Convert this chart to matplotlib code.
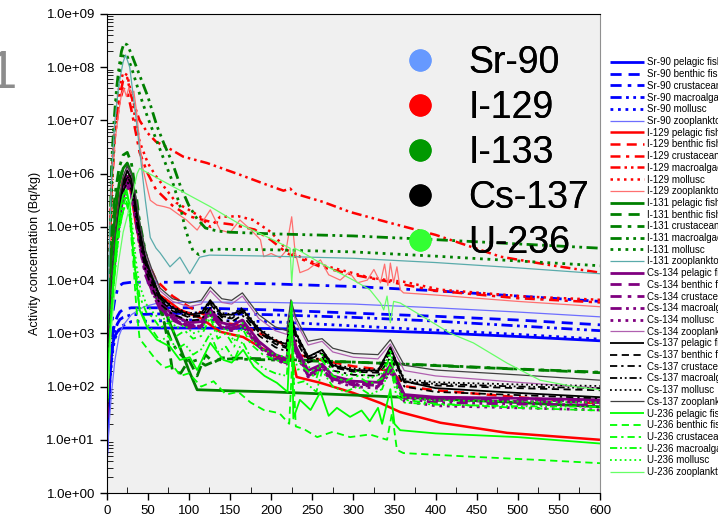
import numpy as np
import matplotlib
matplotlib.use("Agg")
import matplotlib.pyplot as plt
from matplotlib.lines import Line2D
from matplotlib.ticker import FuncFormatter, MultipleLocator, LogLocator, NullFormatter

plt.rcParams['font.family'] = ['Liberation Sans', 'DejaVu Sans']

# ---------------- data (log10 of activity concentration, Bq/kg) ----------------
nuclides = ["Sr-90", "I-129", "I-131", "Cs-134", "Cs-137", "U-236"]
organisms = ["pelagic fish", "benthic fish", "crustacean", "macroalgae", "mollusc", "zooplankton"]
big_legend_labels = ["Sr-90", "I-129", "I-133", "Cs-137", "U-236"]

# Sr-90
sr_days = [0, 2, 4, 6, 8, 10, 13, 16, 20, 30, 100, 200, 300, 400, 500, 600]
sr90_pelagic = [0.7, 1.4, 2.2, 2.6, 2.85, 2.95, 3.03, 3.08, 3.1, 3.1, 3.1, 3.09, 3.06, 3.01, 2.94, 2.86]
sr90_benthic = [0.9, 1.6, 2.3, 2.8, 3.05, 3.2, 3.32, 3.4, 3.45, 3.48, 3.48, 3.44, 3.38, 3.32, 3.25, 3.16]
sr90_crust = [0.9, 1.8, 2.6, 3.1, 3.45, 3.65, 3.82, 3.9, 3.94, 3.96, 3.96, 3.93, 3.88, 3.8, 3.7, 3.6]
sr90_macro = [0.9, 1.6, 2.2, 2.6, 2.9, 3.05, 3.18, 3.26, 3.3, 3.35, 3.38, 3.35, 3.3, 3.23, 3.14, 3.05]
sr90_mollusc = [0.8, 1.5, 2.1, 2.5, 2.75, 2.9, 3.02, 3.1, 3.15, 3.22, 3.25, 3.22, 3.14, 3.06, 2.98, 2.89]
sr90_zoo_days = [0, 3, 6, 10, 15, 20, 30, 45, 60, 100, 200, 300, 400, 500, 600]
sr90_zoo = [0.5, 1.3, 1.9, 2.5, 2.95, 3.15, 3.35, 3.5, 3.56, 3.59, 3.58, 3.55, 3.48, 3.4, 3.31]

# I-129
i129_pel_days = [0, 3, 6, 10, 15, 20, 25, 30, 35, 40, 50, 57, 73, 89, 113, 138, 166, 199, 219, 225, 231, 260, 300, 333, 357, 406, 487, 600]
i129_pelagic = [1.5, 3.0, 4.2, 5.0, 5.5, 5.85, 5.95, 5.6, 5.1, 4.7, 4.2, 3.8, 3.63, 3.44, 3.3, 3.03, 2.93, 2.63, 2.44, 2.6, 2.18, 2.07, 1.88, 1.69, 1.52, 1.32, 1.13, 1.0]
i129_ben_days = [0, 3, 6, 10, 15, 20, 25, 30, 35, 40, 50, 60, 80, 100, 125, 140, 165, 200, 222, 226, 232, 260, 300, 345, 365, 400, 500, 600]
i129_benthic = [1.5, 3.0, 4.3, 5.1, 5.6, 5.9, 6.0, 5.8, 5.3, 4.9, 4.35, 4.0, 3.7, 3.5, 3.3, 3.2, 3.15, 2.9, 2.75, 3.1, 2.6, 2.5, 2.38, 2.3, 2.0, 1.93, 1.8, 1.68]
i129_cru_days = [0, 3, 6, 10, 15, 20, 25, 30, 40, 50, 60, 80, 100, 125, 150, 180, 200, 220, 260, 300, 350, 400, 500, 600]
i129_crust = [2.0, 4.0, 5.7, 6.7, 7.3, 7.6, 7.55, 7.2, 6.4, 6.0, 5.7, 5.4, 5.2, 5.1, 5.05, 4.95, 4.75, 4.5, 4.25, 4.1, 3.95, 3.8, 3.66, 3.58]
i129_mac_days = [0, 3, 6, 10, 15, 20, 25, 30, 40, 50, 60, 73, 93, 122, 162, 195, 215, 223, 230, 263, 296, 341, 400, 479, 540, 600]
i129_macro = [2.0, 4.0, 5.8, 6.8, 7.4, 7.75, 7.8, 7.45, 7.0, 6.76, 6.6, 6.5, 6.32, 6.2, 5.98, 5.79, 5.68, 5.72, 5.62, 5.47, 5.28, 5.09, 4.85, 4.44, 4.28, 4.14]
i129_mol_days = [0, 3, 6, 10, 15, 20, 25, 30, 35, 40, 50, 60, 70, 85, 100, 113, 126, 138, 160, 178, 200, 219, 240, 260, 300, 317, 341, 361, 406, 511, 600]
i129_mollusc = [2.0, 4.2, 6.0, 7.0, 7.6, 7.9, 7.85, 7.5, 7.0, 6.6, 6.2, 5.95, 5.75, 5.45, 5.32, 5.2, 5.0, 5.19, 5.2, 5.13, 4.9, 4.57, 4.4, 4.29, 4.13, 4.06, 4.0, 3.97, 3.82, 3.69, 3.63]
i129_zoo_days = [0, 3, 6, 10, 15, 18, 21, 24, 27, 30, 33, 36, 40, 44, 49, 53, 61, 70, 77, 85, 97, 110, 118, 126, 138, 150, 162, 175, 187, 191, 200, 211, 218, 225, 229, 235, 245, 260, 270, 284, 295, 305, 317, 325, 333, 338, 342, 345, 349, 353, 357, 361, 400, 500, 600]
i129_zoo = [2.0, 4.0, 5.7, 6.6, 7.2, 7.5, 7.6, 7.45, 7.62, 7.5, 7.55, 7.2, 6.6, 6.1, 5.76, 5.5, 5.41, 5.38, 5.35, 5.26, 5.13, 4.94, 5.13, 5.32, 4.94, 4.89, 5.13, 4.95, 4.76, 4.44, 4.5, 4.42, 4.55, 5.19, 4.55, 4.14, 4.2, 4.38, 4.1, 4.0, 4.15, 3.95, 4.0, 4.2, 3.95, 4.3, 3.9, 4.32, 3.95, 4.25, 3.82, 3.76, 3.72, 3.6, 3.5]

# I-131
i131_pel_days = [0, 3, 6, 10, 15, 20, 25, 30, 35, 40, 50, 60, 69, 80, 90, 100, 110, 150, 200, 300, 400, 500, 600]
i131_pelagic = [1.5, 3.0, 4.3, 5.2, 5.8, 6.1, 6.2, 6.0, 5.5, 5.0, 4.3, 3.85, 3.5, 3.07, 2.7, 2.3, 1.94, 1.92, 1.9, 1.84, 1.77, 1.7, 1.62]
i131_ben_days = [0, 3, 6, 10, 15, 20, 25, 30, 35, 40, 50, 60, 67, 75, 80, 90, 100, 110, 120, 130, 140, 200, 330, 450, 600]
i131_benthic = [1.8, 3.4, 4.6, 5.4, 5.9, 6.1, 6.15, 5.9, 5.3, 4.8, 4.1, 3.7, 3.44, 2.8, 2.3, 2.25, 2.5, 2.2, 2.6, 2.45, 2.54, 2.52, 2.44, 2.36, 2.26]
i131_cru_days = [0, 3, 6, 10, 15, 20, 25, 30, 35, 40, 50, 60, 70, 80, 90, 100, 110, 120, 135, 150, 200, 300, 400, 500, 600]
i131_crust = [1.8, 3.5, 4.8, 5.6, 6.1, 6.35, 6.4, 6.2, 5.7, 5.1, 4.3, 3.7, 3.2, 2.8, 2.6, 2.45, 2.5, 2.4, 2.5, 2.52, 2.5, 2.46, 2.4, 2.33, 2.27]
i131_mac_days = [0, 3, 6, 9, 12, 15, 18, 21, 25, 30, 40, 50, 61, 70, 80, 90, 100, 110, 120, 135, 150, 200, 300, 400, 500, 600]
i131_macro = [2.0, 4.0, 6.2, 7.0, 7.6, 8.0, 8.3, 8.45, 8.42, 8.25, 7.85, 7.45, 6.9, 6.55, 6.2, 5.75, 5.4, 5.15, 4.98, 4.92, 4.9, 4.87, 4.83, 4.76, 4.68, 4.6]
i131_mol_days = [0, 3, 6, 9, 12, 15, 18, 21, 25, 30, 40, 50, 60, 70, 80, 90, 95, 100, 105, 112, 120, 135, 200, 300, 400, 500, 600]
i131_mollusc = [2.0, 3.8, 5.8, 6.8, 7.4, 7.85, 8.1, 8.25, 8.2, 8.0, 7.5, 7.05, 6.65, 6.25, 5.85, 5.35, 5.0, 4.75, 4.55, 4.48, 4.55, 4.58, 4.57, 4.53, 4.45, 4.36, 4.27]
i131_zoo_days = [0, 3, 6, 10, 15, 20, 23, 28, 32, 36, 40, 47, 53, 60, 65, 77, 89, 101, 113, 125, 200, 300, 400, 500, 600]
i131_zoo = [2.5, 4.5, 6.0, 7.0, 7.7, 8.1, 8.23, 8.0, 7.5, 7.0, 6.45, 5.5, 4.8, 4.6, 4.51, 4.25, 4.43, 4.12, 4.43, 4.47, 4.45, 4.41, 4.33, 4.23, 4.12]

# Cs-134 / Cs-137 (shared sampling days)
cs_days = [0, 4, 8, 12, 16, 20, 25, 30, 35, 40, 47, 55, 65, 80, 100, 115, 126, 140, 152, 165, 185, 205, 219, 224, 230, 245, 262, 275, 300, 330, 345, 362, 400, 500, 600]
cs134_pelagic = [1.4, 3.1, 4.2, 4.9, 5.4, 5.75, 5.95, 5.8, 5.35, 4.85, 4.3, 3.92, 3.58, 3.35, 3.2, 3.22, 3.45, 3.2, 3.15, 3.25, 2.85, 2.6, 2.52, 3.1, 2.75, 2.3, 2.42, 2.2, 2.1, 2.08, 2.4, 1.85, 1.8, 1.78, 1.75]
cs134_benthic = [1.4, 3.0, 4.1, 4.8, 5.3, 5.65, 5.85, 5.7, 5.25, 4.75, 4.2, 3.85, 3.52, 3.3, 3.15, 3.18, 3.4, 3.15, 3.1, 3.2, 2.8, 2.56, 2.48, 3.05, 2.7, 2.25, 2.38, 2.16, 2.06, 2.04, 2.35, 1.82, 1.77, 1.75, 1.72]
cs134_crust = [1.4, 3.0, 4.0, 4.7, 5.2, 5.55, 5.75, 5.6, 5.15, 4.65, 4.1, 3.78, 3.45, 3.25, 3.1, 3.12, 3.35, 3.1, 3.05, 3.15, 2.75, 2.52, 2.44, 3.0, 2.65, 2.2, 2.34, 2.12, 2.03, 2.0, 2.3, 1.8, 1.74, 1.72, 1.7]
cs134_macro = [1.4, 3.0, 4.0, 4.7, 5.2, 5.55, 5.75, 5.62, 5.18, 4.68, 4.12, 3.8, 3.47, 3.27, 3.12, 3.14, 3.37, 3.12, 3.07, 3.17, 2.77, 2.54, 2.46, 3.02, 2.67, 2.22, 2.36, 2.14, 2.05, 2.02, 2.32, 1.78, 1.7, 1.67, 1.65]
cs134_mollusc = [1.4, 3.1, 4.1, 4.8, 5.3, 5.65, 5.85, 5.72, 5.28, 4.78, 4.2, 3.85, 3.5, 3.28, 3.12, 3.14, 3.38, 3.12, 3.06, 3.15, 2.74, 2.5, 2.42, 2.98, 2.62, 2.18, 2.3, 2.1, 2.0, 1.97, 2.26, 1.72, 1.64, 1.6, 1.56]
cs134_zoo = [1.5, 3.3, 4.4, 5.1, 5.6, 5.95, 6.1, 5.95, 5.55, 5.05, 4.5, 4.15, 3.8, 3.6, 3.5, 3.55, 3.8, 3.58, 3.55, 3.7, 3.28, 3.05, 2.98, 3.55, 3.22, 2.78, 2.85, 2.65, 2.55, 2.52, 2.8, 2.3, 2.2, 2.08, 1.97]
cs137_pelagic = [1.4, 3.2, 4.3, 5.0, 5.5, 5.85, 6.05, 5.9, 5.45, 4.95, 4.4, 4.05, 3.7, 3.48, 3.35, 3.38, 3.62, 3.35, 3.35, 3.45, 3.08, 2.85, 2.8, 3.35, 3.0, 2.56, 2.69, 2.4, 2.31, 2.3, 2.74, 2.1, 1.97, 1.88, 1.8]
cs137_benthic = [1.4, 3.1, 4.2, 4.9, 5.4, 5.75, 5.95, 5.8, 5.35, 4.85, 4.3, 3.95, 3.62, 3.42, 3.3, 3.32, 3.55, 3.3, 3.28, 3.4, 3.02, 2.8, 2.72, 3.28, 2.95, 2.5, 2.62, 2.36, 2.28, 2.26, 2.65, 2.08, 2.02, 1.97, 1.93]
cs137_crust = [1.4, 3.0, 4.1, 4.8, 5.3, 5.65, 5.85, 5.7, 5.25, 4.75, 4.2, 3.85, 3.55, 3.36, 3.24, 3.26, 3.48, 3.24, 3.22, 3.34, 2.96, 2.74, 2.66, 3.2, 2.88, 2.45, 2.56, 2.3, 2.22, 2.2, 2.55, 2.0, 1.9, 1.84, 1.78]
cs137_macro = [1.4, 3.1, 4.2, 4.9, 5.4, 5.75, 5.95, 5.82, 5.38, 4.9, 4.35, 4.0, 3.66, 3.45, 3.32, 3.34, 3.58, 3.32, 3.3, 3.42, 3.05, 2.82, 2.75, 3.3, 2.98, 2.52, 2.64, 2.38, 2.3, 2.28, 2.68, 2.1, 2.05, 2.0, 1.97]
cs137_mollusc = [1.4, 3.2, 4.3, 5.0, 5.5, 5.85, 6.05, 5.9, 5.45, 4.95, 4.42, 4.05, 3.7, 3.5, 3.38, 3.4, 3.62, 3.38, 3.36, 3.48, 3.1, 2.88, 2.8, 3.35, 3.02, 2.56, 2.68, 2.42, 2.34, 2.32, 2.72, 2.14, 2.08, 2.04, 2.01]
cs137_zoo = [1.5, 3.3, 4.4, 5.1, 5.6, 5.95, 6.15, 6.0, 5.6, 5.1, 4.55, 4.2, 3.85, 3.65, 3.57, 3.62, 3.87, 3.65, 3.62, 3.76, 3.35, 3.12, 3.05, 3.63, 3.3, 2.85, 2.9, 2.72, 2.62, 2.6, 2.88, 2.4, 2.31, 2.22, 2.12]

# U-236
u236_pel_days = [0, 4, 8, 12, 16, 20, 24, 28, 32, 40, 49, 61, 77, 89, 101, 110, 126, 142, 152, 166, 179, 192, 207, 220, 225, 227, 235, 248, 260, 270, 280, 296, 310, 320, 330, 335, 341, 345, 350, 357, 400, 500, 600]
u236_pelagic = [1.5, 3.0, 4.0, 4.8, 5.3, 5.6, 5.7, 5.4, 4.57, 3.44, 3.12, 2.88, 2.75, 2.5, 2.55, 2.31, 2.82, 2.5, 2.45, 2.69, 2.37, 2.2, 2.07, 1.9, 3.6, 1.4, 1.75, 1.56, 1.9, 1.45, 1.6, 1.43, 1.55, 1.35, 1.6, 1.3, 1.69, 1.95, 1.3, 1.18, 1.12, 1.05, 0.93]
u236_ben_days = [0, 4, 8, 12, 16, 20, 24, 28, 32, 36, 40, 50, 60, 70, 80, 90, 100, 115, 130, 145, 160, 175, 191, 210, 222, 226, 230, 240, 256, 275, 296, 320, 341, 347, 353, 361, 446, 527, 600]
u236_benthic = [1.5, 2.8, 3.8, 4.5, 5.0, 5.3, 5.45, 5.2, 4.4, 3.5, 2.9, 2.7, 2.5, 2.35, 2.4, 2.2, 2.25, 2.0, 2.1, 1.85, 1.9, 1.7, 1.56, 1.5, 1.3, 2.6, 1.25, 1.2, 1.05, 1.15, 1.05, 1.1, 1.0, 1.5, 0.81, 0.75, 0.68, 0.62, 0.56]
u236_days = [0, 4, 8, 12, 16, 20, 24, 28, 32, 36, 40, 48, 56, 65, 75, 85, 95, 105, 115, 126, 135, 145, 155, 165, 175, 190, 205, 219, 224, 228, 240, 255, 262, 275, 290, 305, 320, 335, 345, 352, 362, 400, 500, 600]
u236_crust = [1.5, 2.9, 3.9, 4.6, 5.1, 5.4, 5.6, 5.3, 4.7, 4.1, 3.7, 3.4, 3.3, 3.1, 3.2, 2.95, 3.05, 2.9, 2.95, 3.3, 2.9, 3.0, 2.75, 3.1, 2.8, 2.6, 2.5, 2.45, 3.4, 2.3, 2.35, 2.15, 2.5, 2.2, 2.1, 2.2, 2.05, 2.15, 2.6, 2.0, 1.75, 1.68, 1.6, 1.55]
u236_macro = [1.5, 2.8, 3.8, 4.5, 5.0, 5.3, 5.5, 5.2, 4.5, 3.9, 3.5, 3.2, 3.05, 2.85, 2.95, 2.7, 2.8, 2.6, 2.7, 3.0, 2.65, 2.75, 2.5, 2.85, 2.55, 2.35, 2.25, 2.2, 3.2, 2.05, 2.1, 1.9, 2.3, 2.0, 1.9, 2.0, 1.85, 1.95, 2.4, 1.85, 1.7, 1.66, 1.63, 1.62]
u236_mollusc = [1.5, 3.0, 4.0, 4.7, 5.2, 5.5, 5.65, 5.4, 4.9, 4.3, 3.9, 3.55, 3.4, 3.25, 3.3, 3.1, 3.15, 3.0, 3.05, 3.4, 3.0, 3.1, 2.85, 3.2, 2.9, 2.7, 2.6, 2.55, 3.5, 2.4, 2.45, 2.25, 2.6, 2.3, 2.2, 2.3, 2.15, 2.25, 2.7, 2.05, 1.8, 1.74, 1.72, 1.7]
u236_zoo_days = [0, 5, 10, 15, 20, 25, 30, 37, 40, 60, 90, 126, 162, 190, 223, 225, 228, 235, 260, 300, 320, 333, 337, 341, 345, 349, 357, 385, 418, 446, 487, 527, 568, 600]
u236_zoo = [1.5, 3.0, 3.8, 4.4, 4.9, 5.2, 5.5, 6.0, 6.1, 5.93, 5.68, 5.38, 5.05, 4.85, 4.6, 3.95, 4.6, 4.55, 4.32, 4.0, 3.82, 3.57, 3.44, 3.7, 3.2, 3.6, 3.57, 3.31, 3.0, 2.82, 2.44, 2.12, 2.0, 1.94]

# ---------------- styles ----------------
nuc_color = {"Sr-90": "#0000ff", "I-129": "#ff0000", "I-131": "#008000",
             "Cs-134": "#800080", "Cs-137": "#000000", "U-236": "#00ff00"}
zoo_color = {"Sr-90": "#6e6eff", "I-129": "#ff7070", "I-131": "#5aabab",
             "Cs-134": "#b060b0", "Cs-137": "#404040", "U-236": "#66ff66"}
nuc_lw = {"Sr-90": 2.0, "I-129": 1.8, "I-131": 2.0, "Cs-134": 2.0, "Cs-137": 1.3, "U-236": 1.3}
org_style = {"pelagic fish": "-",
             "benthic fish": (0, (4, 2.5)),
             "crustacean": (0, (4, 2.2, 1.3, 2.2)),
             "macroalgae": (0, (4, 1.6, 1.0, 1.6, 1.0, 1.6)),
             "mollusc": (0, (1, 1.7)),
             "zooplankton": "-"}

series = [
    ("Sr-90", "pelagic fish", sr_days, sr90_pelagic),
    ("Sr-90", "benthic fish", sr_days, sr90_benthic),
    ("Sr-90", "crustacean", sr_days, sr90_crust),
    ("Sr-90", "macroalgae", sr_days, sr90_macro),
    ("Sr-90", "mollusc", sr_days, sr90_mollusc),
    ("Sr-90", "zooplankton", sr90_zoo_days, sr90_zoo),
    ("I-129", "pelagic fish", i129_pel_days, i129_pelagic),
    ("I-129", "benthic fish", i129_ben_days, i129_benthic),
    ("I-129", "crustacean", i129_cru_days, i129_crust),
    ("I-129", "macroalgae", i129_mac_days, i129_macro),
    ("I-129", "mollusc", i129_mol_days, i129_mollusc),
    ("I-129", "zooplankton", i129_zoo_days, i129_zoo),
    ("I-131", "pelagic fish", i131_pel_days, i131_pelagic),
    ("I-131", "benthic fish", i131_ben_days, i131_benthic),
    ("I-131", "crustacean", i131_cru_days, i131_crust),
    ("I-131", "macroalgae", i131_mac_days, i131_macro),
    ("I-131", "mollusc", i131_mol_days, i131_mollusc),
    ("I-131", "zooplankton", i131_zoo_days, i131_zoo),
    ("Cs-134", "pelagic fish", cs_days, cs134_pelagic),
    ("Cs-134", "benthic fish", cs_days, cs134_benthic),
    ("Cs-134", "crustacean", cs_days, cs134_crust),
    ("Cs-134", "macroalgae", cs_days, cs134_macro),
    ("Cs-134", "mollusc", cs_days, cs134_mollusc),
    ("Cs-134", "zooplankton", cs_days, cs134_zoo),
    ("Cs-137", "pelagic fish", cs_days, cs137_pelagic),
    ("Cs-137", "benthic fish", cs_days, cs137_benthic),
    ("Cs-137", "crustacean", cs_days, cs137_crust),
    ("Cs-137", "macroalgae", cs_days, cs137_macro),
    ("Cs-137", "mollusc", cs_days, cs137_mollusc),
    ("Cs-137", "zooplankton", cs_days, cs137_zoo),
    ("U-236", "pelagic fish", u236_pel_days, u236_pelagic),
    ("U-236", "benthic fish", u236_ben_days, u236_benthic),
    ("U-236", "crustacean", u236_days, u236_crust),
    ("U-236", "macroalgae", u236_days, u236_macro),
    ("U-236", "mollusc", u236_days, u236_mollusc),
    ("U-236", "zooplankton", u236_zoo_days, u236_zoo),
]

W, H = 718, 518
fig = plt.figure(figsize=(W / 100, H / 100), dpi=100)
fig.patch.set_facecolor("white")
ax = fig.add_axes([106.7 / W, (H - 493) / H, (600 - 106.7) / W, (493 - 14) / H])
ax.set_facecolor("#f0f0f0")

handles = []
for nuc, org, d, lg in series:
    if org == "zooplankton":
        color, lw = zoo_color[nuc], 0.9
    else:
        color, lw = nuc_color[nuc], nuc_lw[nuc]
    line, = ax.plot(d, 10 ** np.asarray(lg), color=color, lw=lw,
                    linestyle=org_style[org], label=f"{nuc} {org}",
                    solid_capstyle="butt", dash_capstyle="butt")
    handles.append(line)

ax.set_yscale("log")
ax.set_ylim(1, 1e9)
ax.set_xlim(0, 600)
ax.xaxis.set_major_locator(MultipleLocator(50))
ax.xaxis.set_minor_locator(MultipleLocator(25))
ax.yaxis.set_major_locator(LogLocator(base=10, numticks=20))
ax.yaxis.set_minor_locator(LogLocator(base=10, subs=np.arange(2, 10), numticks=20))
ax.yaxis.set_minor_formatter(NullFormatter())
ax.yaxis.set_major_formatter(FuncFormatter(lambda v, p: f"{v:.1e}"))
ax.tick_params(which="major", direction="out", length=5, width=1, labelsize=9.5, colors="black")
ax.tick_params(which="minor", direction="in", length=4, width=0.6)
for s in ["left", "bottom", "top"]:
    ax.spines[s].set_color("black")
ax.spines["right"].set_color("#909090")
ax.set_ylabel("Activity concentration (Bq/kg)", fontsize=9, labelpad=4)

# big in-plot legend
big_colors = ["#6699ff", "#ff0000", "#009900", "#000000", "#33ff33"]
big_handles = [Line2D([], [], marker="o", ls="", ms=16, color=c, markeredgewidth=0)
               for c in big_colors]
leg1 = ax.legend(big_handles, big_legend_labels, loc="upper left",
                 bbox_to_anchor=(405 / W, (H - 45) / H), bbox_transform=fig.transFigure,
                 fontsize=27, frameon=False, handlelength=0.8, handletextpad=0.88,
                 labelspacing=0.24, borderpad=0, borderaxespad=0)
ax.add_artist(leg1)

# right legend listing every series
fig.legend(handles=handles, loc="upper left",
           bbox_to_anchor=(610 / W, (H - 57.5) / H), bbox_transform=fig.transFigure,
           fontsize=7, frameon=False, handlelength=3.5, handletextpad=0.3,
           labelspacing=0.175, borderpad=0, borderaxespad=0)

# partial panel label
fig.text(17 / W, (H - 88) / H, "1", fontsize=38, color="#8c8c8c", ha="right", va="baseline")

fig.savefig("out.png", dpi=100)
